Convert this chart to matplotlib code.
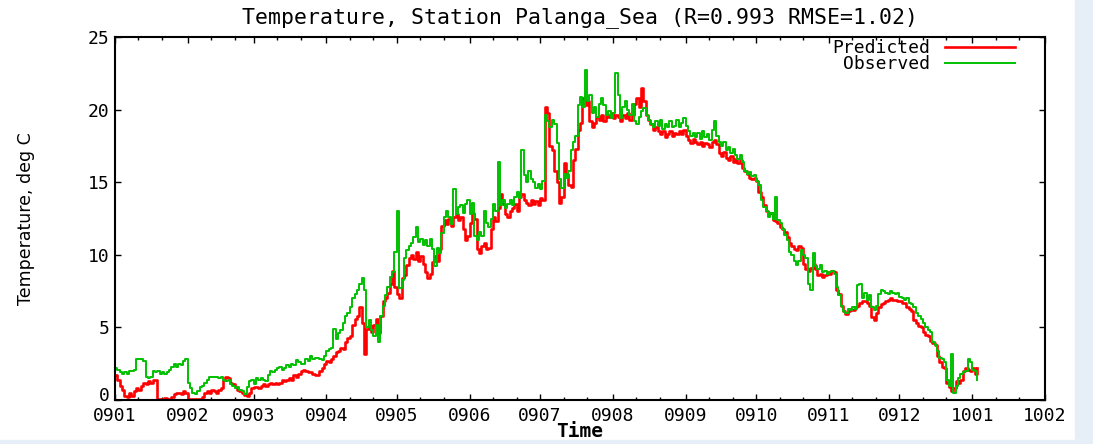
import numpy as np
import pandas as pd
import matplotlib
matplotlib.use('Agg')
import matplotlib.pyplot as plt
import matplotlib.dates as mdates
import matplotlib.transforms as mtransforms

# daily values, starting 2009-01-01
observed = [
    2.2, 2.1, 1.9, 1.8, 1.9, 1.8, 2.0, 2.0, 2.1, 2.8,
    2.85, 2.8, 2.7, 1.6, 1.5, 1.6, 2.0, 1.9, 2.0, 1.8,
    1.9, 1.8, 1.9, 2.1, 2.3, 2.5, 2.3, 2.5, 2.4, 2.7,
    2.8, 1.2, 0.8, 0.5, 0.4, 0.6, 0.9, 1.0, 1.2, 1.4,
    1.6, 1.6, 1.6, 1.6, 1.5, 1.6, 1.4, 1.3, 1.4, 1.1,
    1.0, 0.8, 0.9, 0.7, 0.6, 0.45, 0.9, 1.3, 1.4, 1.1,
    1.5, 1.4, 1.5, 1.4, 1.3, 1.7, 2.0, 1.9, 2.1, 2.2,
    2.3, 2.1, 2.2, 2.4, 2.3, 2.5, 2.4, 2.75, 2.6, 2.5,
    2.5, 2.8, 2.7, 3.0, 2.8, 2.9, 2.9, 2.8, 2.75, 3.0,
    3.4, 3.5, 3.6, 4.9, 4.2, 4.6, 4.8, 5.3, 5.8, 6.0,
    6.4, 7.0, 7.3, 7.6, 8.0, 8.4, 7.6, 5.0, 5.5, 4.8,
    4.4, 5.2, 4.0, 5.8, 6.5, 7.2, 7.8, 8.5, 8.8, 10.2,
    13.0, 7.7, 8.3, 9.8, 10.3, 10.6, 10.8, 11.2, 11.9, 10.9,
    11.1, 10.7, 11.0, 10.6, 11.1, 10.4, 9.2, 10.5, 10.1, 11.5,
    12.6, 13.0, 12.6, 12.1, 14.5, 12.8, 13.3, 13.4, 12.9, 13.5,
    13.8, 12.8, 13.6, 11.3, 11.0, 11.6, 11.3, 13.0, 12.2, 11.9,
    12.5, 13.5, 13.0, 16.4, 13.4, 13.8, 13.2, 13.5, 13.8, 13.4,
    14.0, 14.3, 13.9, 17.2, 15.5, 15.0, 15.8, 15.2, 15.0, 14.6,
    14.9, 14.5, 15.1, 19.6, 19.2, 18.8, 19.3, 19.0, 17.7, 15.2,
    14.6, 15.6, 15.3, 15.8, 17.2, 17.8, 18.2, 20.3, 20.9, 20.2,
    22.7, 20.6, 21.0, 19.8, 20.2, 19.5, 20.4, 20.8, 20.3, 19.6,
    19.9, 19.4, 19.8, 22.5, 21.0, 19.4, 20.2, 20.6, 20.0, 19.6,
    20.4, 19.2, 19.0, 19.5, 19.9, 20.1, 19.6, 19.3, 19.0, 18.8,
    19.2, 18.9, 19.3, 18.7, 19.0, 18.8, 19.2, 18.8, 18.9, 19.3,
    18.8, 19.1, 19.4, 18.9, 18.5, 18.2, 18.4, 18.1, 18.4, 18.0,
    18.5, 18.1, 18.3, 17.9, 18.6, 19.2, 18.2, 17.8, 17.5, 17.8,
    17.2, 17.4, 17.0, 17.3, 16.9, 16.6, 16.9, 16.4, 15.8, 15.6,
    15.7, 15.4, 15.5, 15.1, 14.8, 13.8, 13.3, 13.0, 12.6, 12.9,
    12.5, 14.0, 12.4, 12.2, 11.8, 11.4, 11.0, 10.2, 10.0, 9.6,
    9.3, 9.6, 10.3, 10.0, 9.8, 8.0, 7.6, 10.1, 9.2, 9.0,
    9.3, 8.8, 8.9, 8.7, 8.8, 8.9, 8.7, 7.8, 7.2, 6.5,
    6.1, 6.0, 6.3, 6.2, 6.4, 6.3, 7.9, 8.0, 7.0, 7.4,
    6.9, 7.2, 6.4, 6.2, 6.5, 7.3, 7.6, 7.5, 7.4, 7.3,
    7.5, 7.4, 7.3, 7.4, 7.1, 7.0, 6.9, 7.0, 6.7, 6.6,
    6.4, 6.0, 5.8, 5.6, 5.3, 5.0, 4.8, 4.7, 4.0, 3.8,
    3.4, 2.9, 2.8, 2.6, 1.4, 1.0, 3.2, 0.5, 1.0, 1.5,
    1.8, 1.9, 2.0, 2.8, 2.6, 2.1, 2.0, 1.4,
]

predicted = [
    1.7, 1.4, 1.0, 0.7, 0.3, 0.2, 0.5, 0.3, 0.6, 0.8,
    0.7, 1.0, 1.2, 1.1, 1.3, 1.2, 1.4, 1.4, 0.1, 0.1,
    0.1, 0.15, 0.1, 0.1, 0.2, 0.4, 0.5, 0.5, 0.4, 0.6,
    0.5, 0.1, 0.1, 0.05, 0.1, 0.1, 0.1, 0.2, 0.5, 0.6,
    0.5, 0.7, 0.6, 0.5, 0.7, 0.8, 1.4, 1.6, 1.5, 1.2,
    1.1, 0.9, 0.7, 0.6, 0.5, 0.35, 0.3, 0.5, 0.8, 0.9,
    0.9, 0.8, 1.0, 1.1, 1.0, 1.1, 1.2, 1.1, 1.2, 1.1,
    1.2, 1.4, 1.3, 1.4, 1.5, 1.4, 1.7, 1.6, 1.8, 2.0,
    2.1, 2.0, 1.9, 1.95, 1.8, 1.7, 1.7, 2.0, 2.2, 2.5,
    2.7, 2.6, 2.8, 3.0, 3.3, 3.4, 3.6, 3.5, 4.0, 4.3,
    4.4, 5.2, 5.6, 5.8, 6.4, 5.3, 3.2, 4.9, 5.1, 4.7,
    5.2, 5.6, 4.6, 5.8, 6.8, 7.0, 7.4, 8.0, 8.9, 7.8,
    7.3, 7.0, 8.4, 8.6, 9.3, 9.8, 10.0, 9.7, 10.2, 9.6,
    9.9, 9.4, 8.8, 8.4, 8.7, 9.5, 9.9, 9.6, 10.4, 12.0,
    12.4, 12.1, 12.5, 12.0, 12.6, 12.8, 12.4, 12.6, 11.8, 11.0,
    11.3, 12.2, 12.9, 12.5, 10.4, 10.1, 10.6, 10.8, 10.4, 10.5,
    11.8, 12.6, 12.3, 13.2, 14.2, 13.5, 12.8, 12.6, 13.0, 13.2,
    13.5, 13.0, 14.0, 14.2, 13.8, 13.6, 13.4, 13.8, 13.5, 13.7,
    13.4, 13.9, 13.8, 20.2, 19.8, 17.5, 17.2, 15.8, 15.0, 13.6,
    14.0, 16.3, 15.6, 14.8, 14.7, 16.5, 17.3, 18.6, 19.1, 20.8,
    20.3, 20.6, 19.2, 18.8, 19.1, 19.5, 19.3, 19.6, 19.2, 19.7,
    19.5, 19.8, 19.4, 19.6, 19.5, 19.2, 19.6, 19.4, 19.8, 19.3,
    19.6, 20.4, 20.8, 20.2, 21.5, 20.6, 19.6, 19.3, 19.0, 18.6,
    18.8, 18.5, 18.3, 18.5, 18.1, 18.3, 18.5, 18.2, 18.4, 18.3,
    18.5, 18.3, 18.6, 18.2, 17.9, 17.7, 18.0, 17.8, 17.6, 17.8,
    17.5, 17.7, 17.6, 17.4, 17.8, 17.9, 17.6, 17.0, 16.8, 17.1,
    16.7, 16.5, 16.8, 16.4, 16.6, 16.3, 16.5, 16.0, 15.8, 15.6,
    15.3, 15.2, 15.3, 15.1, 14.3, 14.0, 13.4, 13.0, 12.8, 12.9,
    12.4, 12.3, 12.2, 11.9, 11.8, 11.6, 11.2, 10.8, 10.6, 10.4,
    10.3, 10.6, 10.5, 9.4, 9.0, 8.9, 9.1, 9.4, 9.0, 8.6,
    8.7, 8.5, 8.6, 8.8, 8.7, 8.9, 8.8, 7.6, 7.3, 6.5,
    6.1, 5.9, 6.1, 6.3, 6.2, 6.4, 6.5, 6.7, 6.8, 6.8,
    6.7, 6.5, 5.7, 5.5, 6.0, 6.4, 6.6, 6.7, 6.8, 6.9,
    7.0, 6.9, 6.9, 6.8, 6.8, 6.7, 6.7, 6.4, 6.3, 6.1,
    5.5, 5.3, 5.1, 5.0, 4.7, 4.5, 4.4, 4.1, 3.9, 3.8,
    3.0, 2.6, 2.3, 2.2, 1.2, 0.9, 0.6, 0.8, 1.3, 1.2,
    1.4, 2.0, 2.2, 2.1, 2.0, 2.2, 1.8, 2.2,
]

start_date = '2009-01-01'
x_start, x_end = '2009-01-01', '2010-02-01'
title = 'Temperature, Station Palanga_Sea (R=0.993 RMSE=1.02)'

obs_dates = pd.date_range(start_date, periods=len(observed), freq='D')
pred_dates = pd.date_range(start_date, periods=len(predicted), freq='D')

mono = 'DejaVu Sans Mono'

fig = plt.figure(figsize=(10.93, 4.44), dpi=100)
ax = fig.add_axes([0.1052, 0.099, 0.8509, 0.8176])

ax.plot(pred_dates, predicted, color='#ff0000', lw=1.9, drawstyle='steps-post', label='Predicted')
ax.plot(obs_dates, observed, color='#00c000', lw=1.4, drawstyle='steps-post', label='Observed')

ax.set_xlim(pd.Timestamp(x_start), pd.Timestamp(x_end))
ax.set_ylim(0, 25)

ax.xaxis.set_major_locator(mdates.MonthLocator())
ax.xaxis.set_major_formatter(mdates.DateFormatter('%y%m'))
ax.xaxis.set_minor_locator(mdates.DayLocator(bymonthday=[11, 21]))
ax.set_yticks([0, 5, 10, 15, 20, 25])

ax.tick_params(which='both', direction='in', top=True, right=True, width=1.0)
ax.tick_params(which='major', length=4.5, labelsize=13)
ax.tick_params(which='minor', length=2.5)
ax.tick_params(axis='x', which='major', pad=5)
ax.tick_params(axis='y', which='major', pad=4)
for lbl in ax.get_xticklabels() + ax.get_yticklabels():
    lbl.set_fontfamily(mono)

# lift the "0" label a little so it clears the first date label
zero_lbl = ax.get_yticklabels()[0]
zero_lbl.set_transform(zero_lbl.get_transform() +
                       mtransforms.ScaledTranslation(0, 4 / 72, fig.dpi_scale_trans))

for sp in ax.spines.values():
    sp.set_linewidth(1.5)

ax.set_title(title, fontsize=15.5, family=mono, pad=10)
ax.set_xlabel('Time', fontsize=14, family=mono, fontweight='bold', labelpad=-2)
ax.set_ylabel('Temperature, deg C', fontsize=12.5, labelpad=38)

leg = ax.legend(loc='upper right', bbox_to_anchor=(0.968, 0.994), frameon=False,
                markerfirst=False, prop={'family': mono, 'size': 13}, handlelength=3.9,
                labelspacing=-0.1, borderaxespad=0, borderpad=0, handletextpad=0.8)

# light blue screenshot border on the right and bottom
fig.patches.append(plt.Rectangle((1075 / 1093, 0), 1, 1, transform=fig.transFigure,
                                 color='#e6eef8', zorder=-1))
fig.patches.append(plt.Rectangle((0, 0), 1, 4 / 444, transform=fig.transFigure,
                                 color='#e6eef8', zorder=-1))

fig.savefig('out.png', dpi=100)
